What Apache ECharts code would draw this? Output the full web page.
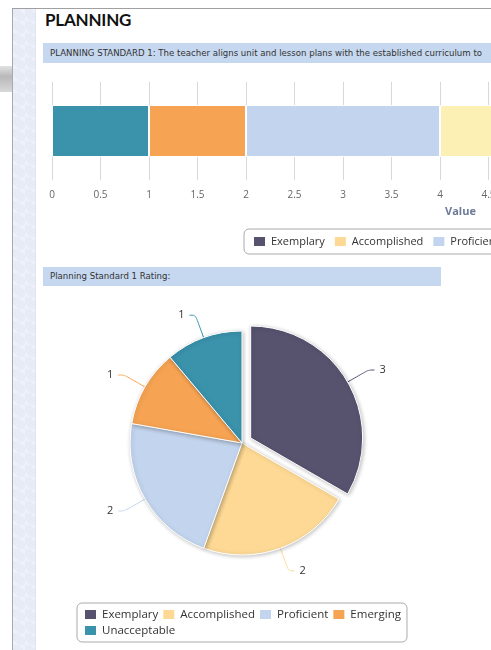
<!DOCTYPE html>
<html>
<head>
<meta charset="utf-8">
<script src="https://cdn.jsdelivr.net/npm/echarts@6/dist/echarts.min.js"></script>
<style>
  html, body { margin:0; padding:0; width:491px; height:650px; overflow:hidden; background:#fff; }
  .shade { position:absolute; left:0; top:66px; width:12px; height:26px;
    background:linear-gradient(#e2e2e2, #b9b9b9 40%, #d8d8d8); }
  .frame-top { position:absolute; left:12px; top:8px; width:479px; height:1px; background:#a0a0a0; }
  .frame-left { position:absolute; left:12px; top:8px; width:1px; height:642px; background:#a8a8b0; }
  .strip { position:absolute; left:13px; top:9px; width:22px; height:641px; background-color:#e6ebf6;
    background-image:linear-gradient(45deg, #eef1f9 25%, transparent 25%, transparent 75%, #eef1f9 75%);
    background-size:12px 12px; border-right:1px solid #dde2ee; }
  h1 { position:absolute; left:45px; top:9px; margin:0; font:700 17px Lato, sans-serif; color:#111; letter-spacing:-0.2px; }
  .bar-head { position:absolute; background:#c6d8ef; font:8.6px "DejaVu Sans", sans-serif; color:#333;
    white-space:nowrap; overflow:hidden; box-sizing:border-box; padding-left:7px; }
  #chart { position:absolute; left:0; top:0; width:1000px; height:650px; }
</style>
</head>
<body>
<div class="shade"></div>
<div class="strip"></div>
<div class="frame-top"></div>
<div class="frame-left"></div>
<h1>PLANNING</h1>
<div class="bar-head" style="left:43px;top:43px;width:460px;height:20px;line-height:20px;">PLANNING STANDARD 1: The teacher aligns unit and lesson plans with the established curriculum to</div>
<div class="bar-head" style="left:43px;top:267px;width:398px;height:19px;line-height:19px;">Planning Standard 1 Rating:</div>
<div id="chart"></div>
<script>
// ratings in legend order
var ratings = ['Exemplary', 'Accomplished', 'Proficient', 'Emerging', 'Unacceptable'];
var counts = [3, 2, 2, 1, 1];
var colors = ['#57536f', '#fdd995', '#c3d5ee', '#f6a453', '#3a92ab'];
var barColors = ['#57536f', '#fdf0b4', '#c3d5ee', '#f6a453', '#3a92ab'];
var category = ['Planning Standard 1'];
var axisMax = 9;

var myChart = echarts.init(document.getElementById('chart'));

// stack goes from Unacceptable on the left to Exemplary on the right
var barSeries = [];
for (var i = ratings.length - 1; i >= 0; i--) {
  barSeries.push({
    name: ratings[i],
    type: 'bar',
    stack: 'total',
    barWidth: 52,
    data: [counts[i]],
    itemStyle: { color: barColors[i], borderColor: '#fff', borderWidth: 1 }
  });
}

var legendData = ratings.map(function (r, i) {
  return { name: r, itemStyle: { color: colors[i] } };
});

var pieData = ratings.map(function (r, i) {
  return { name: r, value: counts[i], selected: i === 0, itemStyle: { color: colors[i] } };
});

var legendCommon = {
  orient: 'horizontal',
  data: legendData,
  icon: 'rect',
  itemWidth: 13,
  itemHeight: 11,
  borderColor: '#aaa',
  borderWidth: 1,
  borderRadius: 5,
  textStyle: { fontFamily: 'Open Sans', fontSize: 11.5, color: '#333' }
};

var option = {
  textStyle: { fontFamily: 'Open Sans' },
  animation: false,
  grid: { left: 52, top: 82, width: 873, height: 98 },
  xAxis: {
    type: 'value',
    min: 0,
    max: axisMax,
    interval: 0.5,
    name: 'Value',
    nameLocation: 'middle',
    nameGap: 26,
    nameTextStyle: { fontWeight: 'bold', fontSize: 11, color: '#6c7b98', padding: [0, 56, 0, 0] },
    axisLine: { show: false },
    axisTick: { show: false },
    splitLine: { lineStyle: { color: '#d8d8d8' } },
    axisLabel: { color: '#666', fontSize: 10, margin: 10 }
  },
  yAxis: {
    type: 'category',
    data: category,
    axisLine: { show: false },
    axisTick: { show: false },
    axisLabel: { show: false }
  },
  legend: [
    Object.assign({}, legendCommon, { left: 244, top: 229, width: 700, itemGap: 8, padding: [6, 8],
      textStyle: { fontFamily: 'Open Sans', fontSize: 11, color: '#333' } }),
    Object.assign({}, legendCommon, { left: 77, top: 603, width: 340, itemGap: 3, padding: [5, 6] })
  ],
  series: barSeries.concat([{
    name: 'Rating',
    type: 'pie',
    center: [242, 443],
    radius: 112,
    startAngle: 90,
    clockwise: true,
    selectedMode: 'single',
    selectedOffset: 10,
    data: pieData,
    itemStyle: {
      borderColor: '#fff',
      borderWidth: 1,
      shadowBlur: 4,
      shadowOffsetX: 1,
      shadowOffsetY: 1,
      shadowColor: 'rgba(0,0,0,0.25)'
    },
    label: { formatter: '{c}', fontSize: 11, color: '#333' },
    labelLine: { length: 24, length2: 6, smooth: 0.3, lineStyle: { width: 1 } }
  }])
};
myChart.setOption(option);
</script>
</body>
</html>
